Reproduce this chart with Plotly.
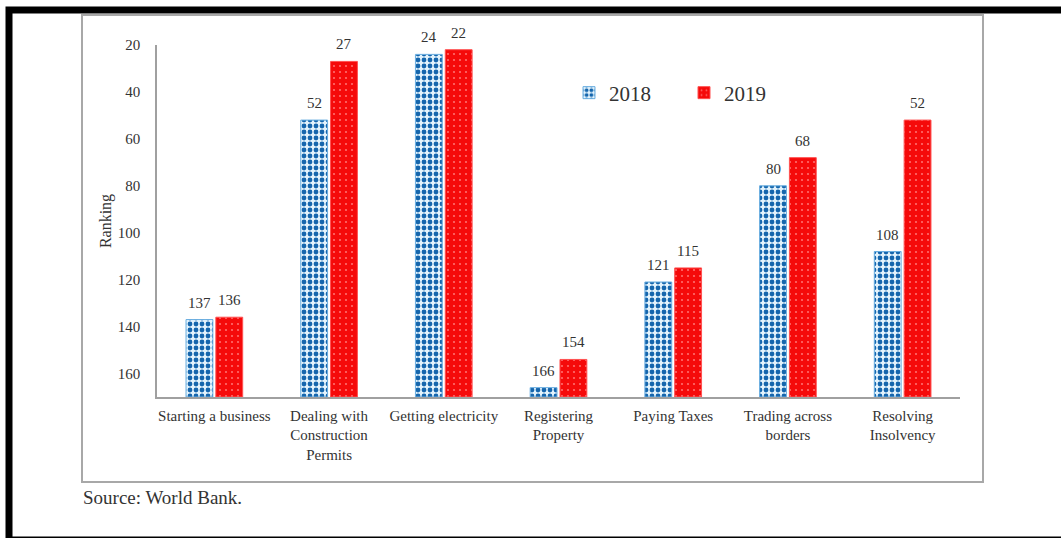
import plotly.graph_objects as go

# Doing Business indicator rankings (lower is better)
categories = [
    "Starting a business",
    "Dealing with<br>Construction<br>Permits",
    "Getting electricity",
    "Registering<br>Property",
    "Paying Taxes",
    "Trading across<br>borders",
    "Resolving<br>Insolvency",
]
rank_2018 = [137, 52, 24, 166, 121, 80, 108]
rank_2019 = [136, 27, 22, 154, 115, 68, 52]
series_names = ["2018", "2019"]
y_ticks = [20, 40, 60, 80, 100, 120, 140, 160]

AXIS_BOTTOM = 170   # worst ranking shown at the bottom of the axis
AXIS_TOP = 20

W, H = 1061, 538
PLOT_L, PLOT_R, PLOT_T, PLOT_B = 157, 960, 45, 397
BARGAP = 0.48
TEXT = "#333333"
FONT = "Liberation Serif"


def px_x(p):
    return (p - PLOT_L) / (PLOT_R - PLOT_L)


def px_y(p):
    return (PLOT_B - p) / (PLOT_B - PLOT_T)


fig = go.Figure()

fig.add_trace(go.Bar(
    name=series_names[0],
    x=categories,
    y=[v - AXIS_BOTTOM for v in rank_2018],
    base=AXIS_BOTTOM,
    marker=dict(
        color="#e4f4fd",
        line=dict(color="#6aaee0", width=1),
        pattern=dict(shape=".", fgcolor="#1566ad", bgcolor="#e4f4fd",
                     size=6, solidity=0.5, fillmode="replace"),
    ),
    hoverinfo="skip",
))
fig.add_trace(go.Bar(
    name=series_names[1],
    x=categories,
    y=[v - AXIS_BOTTOM for v in rank_2019],
    base=AXIS_BOTTOM,
    marker=dict(
        color="#f50a0a",
        line=dict(color="#ff5050", width=1),
        pattern=dict(shape=".", fgcolor="#ff6e6e", bgcolor="#f50a0a",
                     size=6, solidity=0.1, fillmode="replace"),
    ),
    hoverinfo="skip",
))

# value labels above each bar, placed at the bar's slot within its group
slot_offset = (1 - BARGAP) / 4
annotations = []
for i, (a, b) in enumerate(zip(rank_2018, rank_2019)):
    for val, off in ((a, -slot_offset), (b, slot_offset)):
        annotations.append(dict(
            x=i + off, y=val, xref="x", yref="y",
            text=str(val), showarrow=False,
            yanchor="bottom", yshift=7,
            font=dict(family=FONT, size=15, color=TEXT),
        ))

annotations.append(dict(
    x=px_x(81), y=px_y(497), xref="paper", yref="paper",
    xanchor="left", yanchor="middle", showarrow=False,
    text="Source: World Bank.",
    font=dict(family=FONT, size=19, color=TEXT),
))

shapes = [
    # chart area frame
    dict(type="rect", xref="paper", yref="paper",
         x0=px_x(82), x1=px_x(983), y0=px_y(482), y1=px_y(15),
         line=dict(color="#a8a8a8", width=2), fillcolor="rgba(0,0,0,0)"),
    # outer page frame
    dict(type="rect", xref="paper", yref="paper",
         x0=px_x(9), x1=px_x(1075), y0=px_y(540), y1=px_y(10),
         line=dict(color="#000000", width=7), fillcolor="rgba(0,0,0,0)"),
]

fig.update_layout(
    width=W, height=H,
    margin=dict(l=PLOT_L, r=W - PLOT_R, t=PLOT_T, b=H - PLOT_B),
    paper_bgcolor="white", plot_bgcolor="white",
    barmode="group", bargap=BARGAP, bargroupgap=0.1,
    font=dict(family=FONT, size=15, color=TEXT),
    showlegend=True,
    legend=dict(
        orientation="h", x=px_x(569), y=px_y(93),
        xanchor="left", yanchor="middle",
        font=dict(family=FONT, size=21, color=TEXT),
        entrywidth=70, entrywidthmode="pixels",
        bgcolor="rgba(0,0,0,0)",
    ),
    annotations=annotations,
    shapes=shapes,
)

fig.update_xaxes(
    type="category",
    showline=True, linecolor="#a0a0a0", linewidth=1.5,
    ticks="", showgrid=False, zeroline=False,
    tickfont=dict(family=FONT, size=15, color=TEXT),
    ticklabelstandoff=4,
)
fig.update_yaxes(
    range=[AXIS_BOTTOM, AXIS_TOP],
    tickvals=y_ticks,
    showline=True, linecolor="#a0a0a0", linewidth=1.5,
    ticks="", showgrid=False, zeroline=False,
    tickfont=dict(family=FONT, size=15, color=TEXT),
    ticklabelstandoff=12,
    title=dict(text="Ranking", font=dict(family=FONT, size=16, color=TEXT),
               standoff=2),
)

fig.write_html("out.html")
